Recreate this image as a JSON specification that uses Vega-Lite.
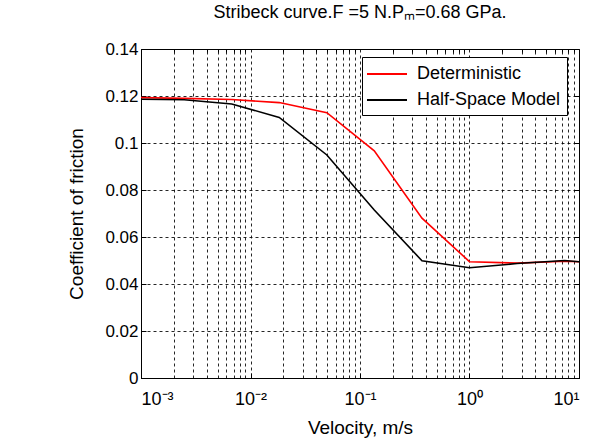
{
  "$schema": "https://vega.github.io/schema/vega-lite/v6.json",
  "width": 438,
  "height": 329,
  "autosize": "none",
  "padding": {"left": 141, "top": 49, "right": 13, "bottom": 66},
  "background": "white",
  "title": {"text": "Stribeck curve.F =5 N.Pₘ=0.68 GPa.", "font": "Liberation Sans", "fontSize": 18, "fontWeight": "normal", "color": "black", "anchor": "middle", "offset": 18},
  "config": {
    "view": {"stroke": "black", "strokeWidth": 1},
    "axis": {"labelFont": "Liberation Sans", "titleFont": "Liberation Sans", "labelColor": "black", "titleColor": "black", "titleFontWeight": "normal", "domainColor": "black", "tickColor": "black", "gridColor": "black", "gridDash": [3, 3], "gridOpacity": 0.85, "gridWidth": 1}
  },
  "data": {"values": [
    {"v": 0.001, "cof": 0.1193, "series": "Deterministic"},
    {"v": 0.00248, "cof": 0.119, "series": "Deterministic"},
    {"v": 0.00674, "cof": 0.1185, "series": "Deterministic"},
    {"v": 0.0183, "cof": 0.1172, "series": "Deterministic"},
    {"v": 0.0498, "cof": 0.1129, "series": "Deterministic"},
    {"v": 0.135, "cof": 0.0967, "series": "Deterministic"},
    {"v": 0.368, "cof": 0.068, "series": "Deterministic"},
    {"v": 1.0, "cof": 0.0495, "series": "Deterministic"},
    {"v": 2.718, "cof": 0.0489, "series": "Deterministic"},
    {"v": 7.389, "cof": 0.0497, "series": "Deterministic"},
    {"v": 10, "cof": 0.0495, "series": "Deterministic"},
    {"v": 0.001, "cof": 0.1186, "series": "Half-Space Model"},
    {"v": 0.00248, "cof": 0.1184, "series": "Half-Space Model"},
    {"v": 0.00674, "cof": 0.1166, "series": "Half-Space Model"},
    {"v": 0.0183, "cof": 0.1109, "series": "Half-Space Model"},
    {"v": 0.0498, "cof": 0.0949, "series": "Half-Space Model"},
    {"v": 0.135, "cof": 0.0715, "series": "Half-Space Model"},
    {"v": 0.368, "cof": 0.0499, "series": "Half-Space Model"},
    {"v": 1.0, "cof": 0.0469, "series": "Half-Space Model"},
    {"v": 2.718, "cof": 0.0487, "series": "Half-Space Model"},
    {"v": 7.389, "cof": 0.05, "series": "Half-Space Model"},
    {"v": 10, "cof": 0.0495, "series": "Half-Space Model"}
  ]},
  "layer": [
    {
      "mark": {"type": "point", "opacity": 0},
      "encoding": {
        "x": {"field": "v", "type": "quantitative", "scale": {"type": "log", "domain": [0.001, 10], "nice": false},
          "axis": {"orient": "top", "values": [0.002,0.003,0.004,0.005,0.006,0.007,0.008,0.009,0.02,0.03,0.04,0.05,0.06,0.07,0.08,0.09,0.2,0.3,0.4,0.5,0.6,0.7,0.8,0.9,2,3,4,5,6,7,8,9], "labels": false, "domain": false, "ticks": true, "tickSize": -3, "grid": true, "title": null}},
        "y": {"field": "cof", "type": "quantitative", "scale": {"domain": [0, 0.14], "nice": false},
          "axis": {"orient": "right", "values": [0,0.02,0.04,0.06,0.08,0.1,0.12,0.14], "labels": false, "domain": false, "tickSize": -5, "grid": false, "title": null}}
      }
    },
    {
      "mark": {"type": "line", "strokeWidth": 1.6},
      "encoding": {
        "x": {"field": "v", "type": "quantitative", "scale": {"type": "log", "domain": [0.001, 10], "nice": false},
          "axis": {"values": [0.001, 0.01, 0.1, 1, 10], "labelExpr": "datum.value < 0.005 ? '10⁻³' : datum.value < 0.05 ? '10⁻²' : datum.value < 0.5 ? '10⁻¹' : datum.value < 5 ? '10⁰' : '10¹'", "labelFontSize": 18, "labelPadding": 17, "tickSize": -5, "grid": true, "title": "Velocity, m/s", "titleFontSize": 19, "titlePadding": 10}},
        "y": {"field": "cof", "type": "quantitative", "scale": {"domain": [0, 0.14], "nice": false},
          "axis": {"values": [0,0.02,0.04,0.06,0.08,0.1,0.12,0.14], "format": ".2~f", "labelFontSize": 17, "labelPadding": 8, "tickSize": -5, "grid": true, "title": "Coefficient of friction", "titleFontSize": 19, "titlePadding": 18}},
        "color": {"field": "series", "type": "nominal", "scale": {"domain": ["Deterministic", "Half-Space Model"], "range": ["#ff0000", "#000000"]},
          "legend": {"orient": "none", "legendX": 221, "legendY": 8, "title": null, "strokeColor": "black", "fillColor": "white", "padding": 6, "labelFont": "Liberation Sans", "labelFontSize": 18, "labelColor": "black", "symbolType": "M-1.2,0H2.8", "symbolStrokeWidth": 2, "symbolSize": 400, "rowPadding": 6, "labelOffset": 27}}
      }
    }
  ],
  "resolve": {"axis": {"x": "independent", "y": "independent"}}
}
